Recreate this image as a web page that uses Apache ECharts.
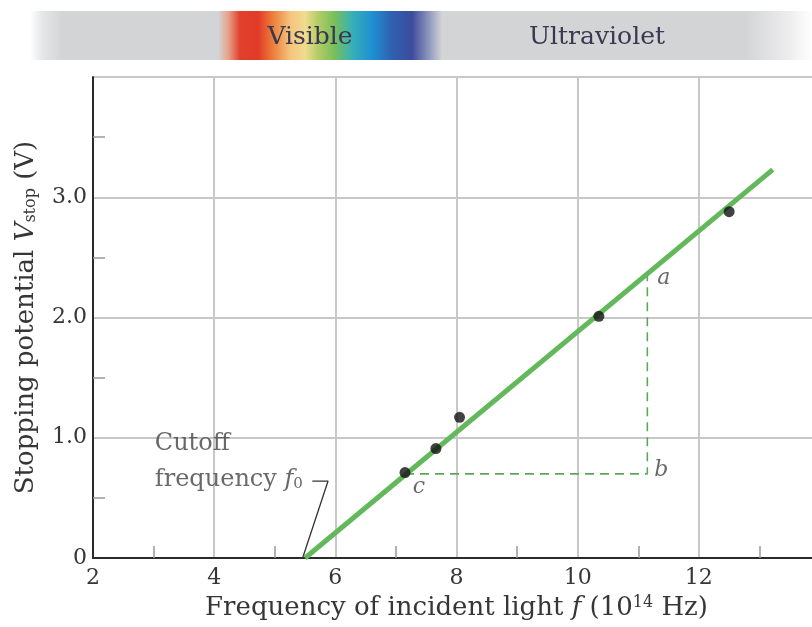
<!DOCTYPE html>
<html>
<head>
<meta charset="utf-8">
<script src="https://cdn.jsdelivr.net/npm/echarts@6/dist/echarts.min.js"></script>
<style>
html,body{margin:0;padding:0;background:#fff;}
#chart{width:812px;height:627px;}
</style>
</head>
<body>
<div id="chart"></div>
<script>
// ---- data ----
var freq = [7.15, 7.66, 8.05, 10.35, 12.5];      // 10^14 Hz
var vstop = [0.71, 0.91, 1.17, 2.01, 2.88];     // V
var fitLine = [[5.5, 0], [13.22, 3.23]];
var triangle = [[7.15, 0.70], [11.15, 0.70], [11.15, 2.37]];
var cutoffLeader = [[5.62, 0.64], [5.88, 0.64], [5.46, 0]];
var xTicks = [2, 4, 6, 8, 10, 12];
var yTicks = [0, 1, 2, 3];
var pointLabels = [
  {name: 'a', value: [11.42, 2.33]},
  {name: 'b', value: [11.38, 0.73]},
  {name: 'c', value: [7.38, 0.59]}
];
var cutoffText = [
  {name: 'Cutoff', value: [3.02, 0.95]},
  {name: 'frequency', value: [3.02, 0.65]}
];

var SERIF = '"DejaVu Serif", "Liberation Serif", serif';
var TXT = '#363636';
var chart = echarts.init(document.getElementById('chart'));

var x0 = 30, bw = 782;
function p(x){ return (x - x0) / bw; }
var G = '#d3d4d6';

var option = {
  backgroundColor: '#fff',
  animation: false,
  grid: {left: 93, top: 77, width: 727, height: 481, containLabel: false, outerBoundsMode: 'none'},
  graphic: [
    {
      type: 'rect', z: 0,
      shape: {x: x0, y: 11, width: bw, height: 49},
      style: {
        fill: new echarts.graphic.LinearGradient(0, 0, 1, 0, [
          {offset: 0, color: '#ffffff'},
          {offset: p(42), color: '#e6e7e8'},
          {offset: p(62), color: G},
          {offset: p(218), color: G},
          {offset: p(228), color: '#e6a48c'},
          {offset: p(240), color: '#e0402e'},
          {offset: p(258), color: '#e23a28'},
          {offset: p(272), color: '#ec7a38'},
          {offset: p(290), color: '#f4c47c'},
          {offset: p(305), color: '#f0dc90'},
          {offset: p(318), color: '#b4cc66'},
          {offset: p(335), color: '#76bf5c'},
          {offset: p(352), color: '#38b0b8'},
          {offset: p(372), color: '#1e90d2'},
          {offset: p(392), color: '#3060b0'},
          {offset: p(412), color: '#3c4c9c'},
          {offset: p(428), color: '#8a92bc'},
          {offset: p(442), color: G},
          {offset: p(745), color: G},
          {offset: p(790), color: '#eeeeef'},
          {offset: 1, color: '#ffffff'}
        ])
      }
    },
    {
      type: 'text', z: 2, x: 310, y: 37,
      style: {text: 'Visible', font: '25px ' + SERIF, fill: '#3a3850', align: 'center', verticalAlign: 'middle'}
    },
    {
      type: 'text', z: 2, x: 597, y: 37,
      style: {text: 'Ultraviolet', font: '25px ' + SERIF, fill: '#3a3850', align: 'center', verticalAlign: 'middle'}
    }
  ],
  xAxis: {
    type: 'value', min: 2, max: 14, interval: 2,
    axisLine: {show: true, onZero: false, lineStyle: {color: '#2a2a2a', width: 2}},
    axisTick: {show: false, inside: true},
    minorTick: {show: true, splitNumber: 2, length: 12, lineStyle: {color: '#999', width: 1.5}},
    splitLine: {show: true, lineStyle: {color: '#c8c8c8', width: 2}},
    axisLabel: {
      margin: 9, fontFamily: SERIF, fontSize: 22, color: TXT,
      formatter: function (v) { return xTicks.indexOf(v) >= 0 ? String(v) : ''; }
    },
    name: '{n|Frequency of incident light }{i|f}{n| (10}{s|14}{n| Hz)}',
    nameLocation: 'middle', nameGap: 37,
    nameTextStyle: {
      rich: {
        n: {fontFamily: SERIF, fontSize: 26, color: TXT},
        i: {fontFamily: SERIF, fontSize: 26, color: TXT, fontStyle: 'italic'},
        s: {fontFamily: SERIF, fontSize: 16, color: TXT, verticalAlign: 'top', padding: [0, 0, 11, 0]}
      }
    }
  },
  yAxis: {
    type: 'value', min: 0, max: 4, interval: 1,
    axisLine: {show: true, lineStyle: {color: '#2a2a2a', width: 2}},
    axisTick: {show: false, inside: true},
    minorTick: {show: true, splitNumber: 2, length: 12, lineStyle: {color: '#999', width: 1.5}},
    splitLine: {show: true, lineStyle: {color: '#c8c8c8', width: 2}},
    axisLabel: {
      margin: 6, fontFamily: SERIF, fontSize: 22, color: TXT,
      formatter: function (v) {
        if (yTicks.indexOf(v) < 0) return '';
        return v === 0 ? '0' : v.toFixed(1);
      }
    },
    name: '{n|Stopping potential }{i|V}{s|stop}{n| (V)}',
    nameLocation: 'middle', nameGap: 54, nameRotate: 90,
    nameTextStyle: {
      rich: {
        n: {fontFamily: SERIF, fontSize: 26, color: TXT},
        i: {fontFamily: SERIF, fontSize: 26, color: TXT, fontStyle: 'italic'},
        s: {fontFamily: SERIF, fontSize: 16, color: TXT, verticalAlign: 'bottom', padding: [10, 0, 0, 0]}
      }
    }
  },
  series: [
    {
      type: 'line', data: triangle, symbol: 'none', z: 3,
      lineStyle: {color: '#5aa85a', width: 1.6, type: [9, 6]}
    },
    {
      type: 'line', data: cutoffLeader, symbol: 'none', z: 3,
      lineStyle: {color: '#333', width: 1.3}
    },
    {
      type: 'line', data: fitLine, symbol: 'none', z: 4,
      lineStyle: {color: '#64b85c', width: 5}
    },
    {
      type: 'scatter', z: 5,
      data: freq.map(function (f, i) { return [f, vstop[i]]; }),
      symbolSize: 11, itemStyle: {color: '#111'}
    },
    {
      type: 'scatter', z: 6, symbolSize: 0, silent: true,
      data: pointLabels,
      label: {
        show: true, position: 'inside', formatter: '{b}',
        fontFamily: SERIF, fontSize: 22, fontStyle: 'italic', color: '#444'
      }
    },
    {
      type: 'scatter', z: 6, symbolSize: 0, silent: true,
      data: cutoffText,
      label: {
        show: true, position: 'right', distance: 0,
        formatter: function (pa) {
          return pa.name === 'Cutoff' ? '{n|Cutoff}' : '{n|frequency }{i|f}{s|0}';
        },
        rich: {
          n: {fontFamily: SERIF, fontSize: 24, color: '#444'},
          i: {fontFamily: SERIF, fontSize: 24, color: '#444', fontStyle: 'italic'},
          s: {fontFamily: SERIF, fontSize: 15, color: '#444', verticalAlign: 'bottom', padding: [9, 0, 0, 0]}
        }
      }
    }
  ]
};
chart.setOption(option);
</script>
</body>
</html>
